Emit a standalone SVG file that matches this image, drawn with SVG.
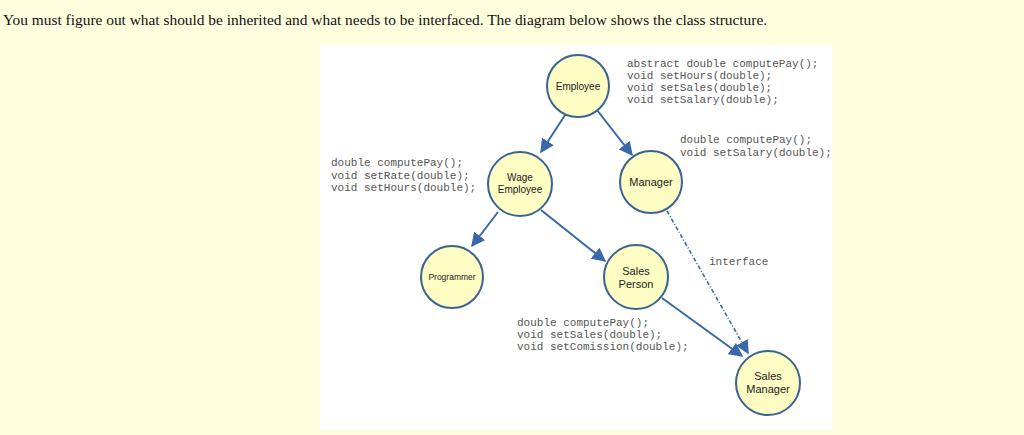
<svg xmlns="http://www.w3.org/2000/svg" width="1024" height="435" viewBox="0 0 1024 435">
<style>
.node{fill:#fdfdc4;stroke:#3b6392;stroke-width:2}
.lbl{font-family:"Liberation Sans",Arial,sans-serif;fill:#222;text-anchor:middle}
.code{font-family:"Liberation Mono","Courier New",monospace;font-size:11px;fill:#555}
.edge{stroke:#3a68a8;stroke-width:2;fill:none}
.dash{stroke:#3a68a8;stroke-width:1.6;stroke-dasharray:4 2 1 2;fill:none}
</style>
<defs>
<marker id="ah" viewBox="0 0 10 10" refX="9" refY="5" markerWidth="7" markerHeight="7" orient="auto" markerUnits="strokeWidth">
<path d="M0,0 L10,5 L0,10 z" fill="#3a68a8"/>
</marker>
<marker id="ah2" viewBox="0 0 10 10" refX="9" refY="5" markerWidth="8.5" markerHeight="8.5" orient="auto" markerUnits="strokeWidth">
<path d="M0,0 L10,5 L0,10 z" fill="#3a68a8"/>
</marker>
</defs>
<rect width="1024" height="435" fill="#ffffdf"/>
<text x="3" y="25" font-family="Liberation Serif,'Times New Roman',serif" font-size="15.4" fill="#111">You must figure out what should be inherited and what needs to be interfaced. The diagram below shows the class structure.</text>
<rect x="320" y="45" width="512" height="385" fill="#ffffff"/>
<g id="connectors">
<line class="edge" x1="567" y1="112" x2="541" y2="152" marker-end="url(#ah)"/>
<line class="edge" x1="597" y1="110" x2="632" y2="155" marker-end="url(#ah)"/>
<line class="edge" x1="498" y1="212" x2="472" y2="246" marker-end="url(#ah)"/>
<line class="edge" x1="541" y1="210" x2="605" y2="261" marker-end="url(#ah)"/>
<line class="edge" x1="662" y1="298" x2="742" y2="356" marker-end="url(#ah)"/>
<line class="dash" x1="667" y1="211" x2="748" y2="353" marker-end="url(#ah2)"/>
<text class="code" x="709" y="265">interface</text>
</g>
<g id="employee">
<circle class="node" cx="578" cy="86" r="31"/>
<text class="lbl" x="578" y="89.5" font-size="10">Employee</text>
<text class="code"><tspan x="627" y="67">abstract double computePay();</tspan><tspan x="627" y="79">void setHours(double);</tspan><tspan x="627" y="91">void setSales(double);</tspan><tspan x="627" y="103">void setSalary(double);</tspan></text>
</g>
<g id="wage-employee">
<circle class="node" cx="520" cy="184" r="32"/>
<text class="lbl" font-size="10"><tspan x="520" y="181">Wage</tspan><tspan x="520" y="193">Employee</tspan></text>
<text class="code"><tspan x="331" y="166">double computePay();</tspan><tspan x="331" y="179">void setRate(double);</tspan><tspan x="331" y="191">void setHours(double);</tspan></text>
</g>
<g id="manager">
<circle class="node" cx="651" cy="182" r="31"/>
<text class="lbl" x="651" y="186" font-size="11">Manager</text>
<text class="code"><tspan x="680" y="143">double computePay();</tspan><tspan x="680" y="156">void setSalary(double);</tspan></text>
</g>
<g id="programmer">
<circle class="node" cx="452" cy="277" r="31"/>
<text class="lbl" x="452" y="280" font-size="8.5">Programmer</text>
</g>
<g id="sales-person">
<circle class="node" cx="636" cy="277" r="32"/>
<text class="lbl" font-size="11"><tspan x="636" y="275">Sales</tspan><tspan x="636" y="288">Person</tspan></text>
<text class="code"><tspan x="517" y="326">double computePay();</tspan><tspan x="517" y="338">void setSales(double);</tspan><tspan x="517" y="350">void setComission(double);</tspan></text>
</g>
<g id="sales-manager">
<circle class="node" cx="768" cy="383" r="32"/>
<text class="lbl" font-size="11"><tspan x="768" y="380">Sales</tspan><tspan x="768" y="393">Manager</tspan></text>
</g>
</svg>
